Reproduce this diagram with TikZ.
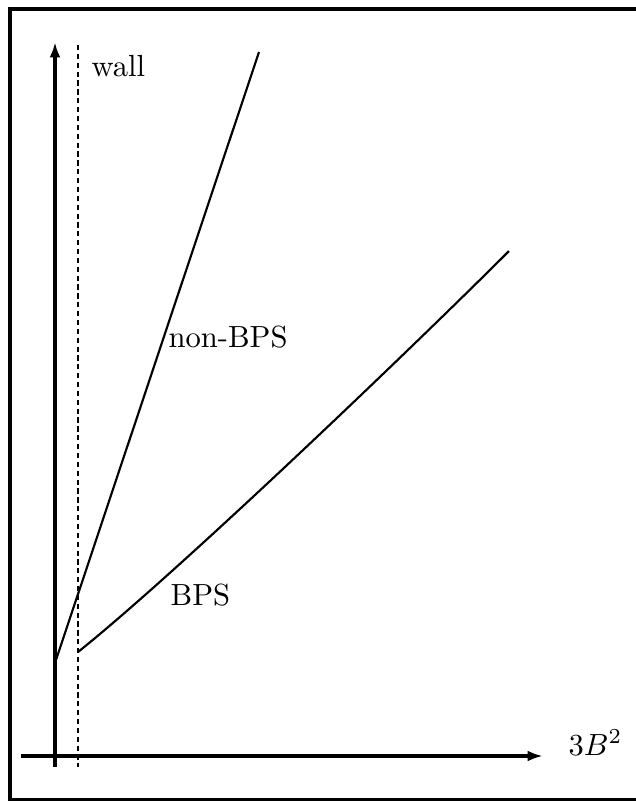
\documentclass[tikz,border=0pt]{standalone}
\usetikzlibrary{arrows.meta}
\begin{document}
\begin{tikzpicture}[x=0.327pt,y=-0.327pt,
  axis/.style={line width=1pt,-{Latex[length=5pt,width=3.5pt]}},
  curve/.style={line width=0.7pt},
  wallline/.style={line width=0.65pt,dash pattern=on 1.7pt off 1.2pt},
  lbl/.style={inner sep=0pt,anchor=base west}]
\useasboundingbox (0,0) rectangle (636,801);
\draw[line width=1.15pt] (10,9) rectangle (642,800);
% axes
\coordinate (vbot) at (55,767);
\coordinate (vtop) at (55,42);
\coordinate (hleft) at (21,756);
\coordinate (hright) at (543,756);
\draw[axis] (vbot) -- (vtop);
\draw[axis] (hleft) -- (hright);
% wall
\coordinate (wtop) at (78,45);
\coordinate (wbot) at (78,767);
\draw[wallline] (wtop) -- (wbot);
% non-BPS line
\coordinate (nb0) at (55,663);
\coordinate (nb1) at (259,52);
\draw[curve] (nb0) -- (nb1);
% BPS curve
\coordinate (b0) at (78,652);
\coordinate (b1) at (509,251);
\draw[curve] (b0) .. controls (178,572) and (409,351) .. (b1);
% labels
\node[lbl] (wall) at (91,76) {wall};
\node[lbl] (nonbps) at (168,347) {non-BPS};
\node[lbl] (bps) at (170,605) {BPS};
\node[lbl] (xlabel) at (568,755) {$3B^2$};
\end{tikzpicture}
\end{document}
